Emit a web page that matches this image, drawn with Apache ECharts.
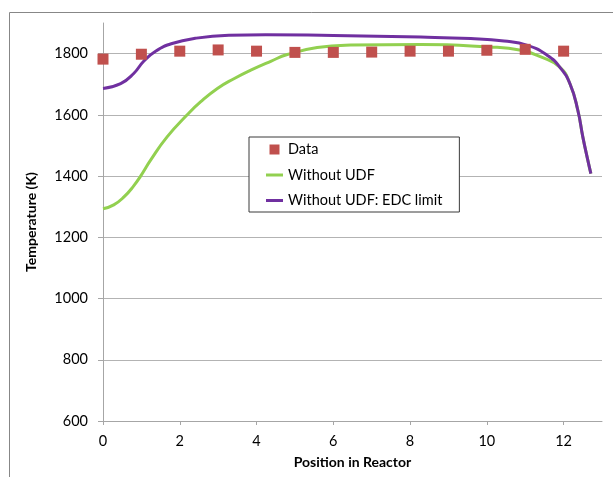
<!DOCTYPE html>
<html>
<head>
<meta charset="utf-8">
<script src="https://cdn.jsdelivr.net/npm/echarts@6/dist/echarts.min.js"></script>
<style>
html,body{margin:0;padding:0;background:#fff;}
#chart{width:613px;height:477px;}
</style>
</head>
<body>
<div id="chart"></div>
<script>
var dataPositions = [0,1,2,3,4,5,6,7,8,9,10,11,12];
var dataTemps = [1782,1798,1808,1812,1808,1804,1804,1805,1808,1808,1811,1814,1808];

var noUdfX = [0,0.28,0.54,0.8,0.98,1.24,1.67,2.2,2.54,2.98,3.41,3.85,4.37,4.8,5.58,6.45,8.28,10.02,10.89,11.41,11.9,12.17,12.37,12.5,12.63,12.71];
var noUdfT = [1293,1306,1331,1368,1400,1452,1528,1601,1642,1686,1718,1746,1775,1797,1820,1828,1830,1822,1811,1789,1756,1700,1615,1528,1452,1408];

var edcX = [0,0.46,0.8,1.06,1.37,1.8,2.4,3.28,4.24,6,8.28,9.58,10.45,11.06,11.58,11.9,12.17,12.37,12.5,12.63,12.71];
var edcT = [1686,1702,1735,1775,1808,1833,1850,1860,1862,1859,1854,1849,1841,1827,1794,1756,1700,1615,1528,1452,1408];

var xTicks = [0,2,4,6,8,10,12];
var yTicks = [600,800,1000,1200,1400,1600,1800];

function zip(a,b){return a.map(function(v,i){return [v,b[i]];});}

var FONT = 'Lato';
var SQUARE = 'path://M0,0L10,0L10,10L0,10Z';
var LINEICON = 'path://M0,0L17,0L17,3L0,3Z';
var chart = echarts.init(document.getElementById('chart'), null, {renderer:'canvas'});
chart.setOption({
  animation:false,
  backgroundColor:'#fff',
  textStyle:{fontFamily:FONT},
  graphic:[{
    type:'rect', z:-10, silent:true,
    shape:{x:9.5,y:12.5,width:800,height:800},
    style:{fill:'none',stroke:'#878787',lineWidth:1}
  }],
  grid:{left:103,top:23,width:499,height:398,containLabel:false},
  legend:{
    orient:'vertical', left:249, top:137,
    padding:[5,17,4,17],
    itemGap:10.5, itemWidth:17, itemHeight:10,
    backgroundColor:'#fff', borderColor:'#3a3a3a', borderWidth:1, borderRadius:0,
    textStyle:{fontFamily:FONT,fontSize:14.5,color:'#000',lineHeight:14},
    data:[
      {name:'Data', icon:SQUARE},
      {name:'Without UDF', icon:LINEICON},
      {name:'Without UDF: EDC limit', icon:LINEICON}
    ]
  },
  xAxis:{
    type:'value', min:0, max:13, interval:2,
    name:'Position in Reactor', nameLocation:'middle', nameGap:34,
    nameTextStyle:{fontFamily:FONT,fontSize:14,fontWeight:'bold',color:'#000'},
    axisLine:{show:true,lineStyle:{color:'#a6a6a6',width:1}},
    axisTick:{show:true,length:4,inside:false,customValues:xTicks,lineStyle:{color:'#a6a6a6'}},
    axisLabel:{customValues:xTicks,margin:13,fontFamily:FONT,fontSize:14.5,color:'#000'},
    splitLine:{show:false}
  },
  yAxis:{
    type:'value', min:600, max:1900, interval:200,
    name:'Temperature (K)', nameLocation:'middle', nameGap:65, nameRotate:90,
    nameTextStyle:{fontFamily:FONT,fontSize:14,fontWeight:'bold',color:'#000'},
    axisLine:{show:true,lineStyle:{color:'#a6a6a6',width:1}},
    axisTick:{show:true,length:5,inside:false,customValues:yTicks,lineStyle:{color:'#a6a6a6'}},
    axisLabel:{customValues:yTicks,margin:15,fontFamily:FONT,fontSize:14.5,color:'#000',
      formatter:function(v){return String(v);}},
    splitLine:{show:true,lineStyle:{color:'#b3b3b3',width:1}}
  },
  series:[
    {
      name:'Data', type:'scatter', z:5,
      symbol:SQUARE, symbolSize:11, symbolKeepAspect:true,
      itemStyle:{color:'#C0504D',opacity:1},
      data:zip(dataPositions,dataTemps)
    },
    {
      name:'Without UDF', type:'line', z:2, smooth:0.5, symbol:'none', symbolKeepAspect:true,
      lineStyle:{color:'#92D050',width:3}, itemStyle:{color:'#92D050'},
      data:zip(noUdfX,noUdfT)
    },
    {
      name:'Without UDF: EDC limit', type:'line', z:3, smooth:0.5, symbol:'none', symbolKeepAspect:true,
      lineStyle:{color:'#7030A0',width:3}, itemStyle:{color:'#7030A0'},
      data:zip(edcX,edcT)
    }
  ]
});
</script>
</body>
</html>
